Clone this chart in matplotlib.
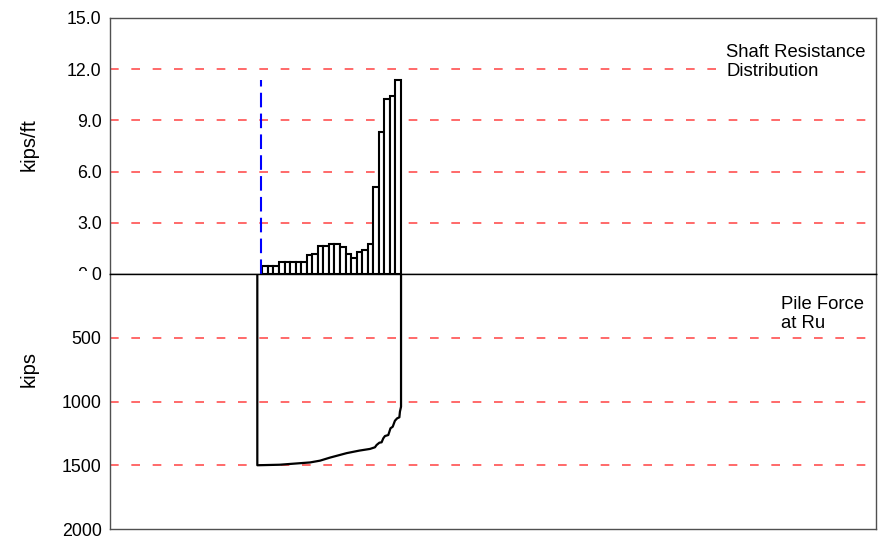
import matplotlib
matplotlib.use("Agg")
import matplotlib.pyplot as plt
from matplotlib.patches import Rectangle

plt.rcParams['font.family'] = ['Liberation Sans', 'DejaVu Sans']

# Shaft resistance per segment (kips/ft), segments 1..25 from pile top to toe
shaft_res = [0.45, 0.45, 0.45, 0.68, 0.68, 0.68, 0.68, 0.68, 1.12, 1.18,
             1.62, 1.65, 1.76, 1.76, 1.60, 1.19, 0.94, 1.29, 1.39, 1.74,
             5.08, 8.34, 10.25, 10.41, 11.37]
seg_start = list(range(len(shaft_res)))

# Pile force at Ru (kips) along the pile (x in segment units)
force_x = [-0.9, -0.9, 3.1, 8.6, 10.4, 12.2, 15.2, 17.5, 19.4, 20.3, 20.6,
           21.1, 21.5, 21.8, 22.1, 22.7, 22.9, 23.1, 23.5, 23.9, 24.3,
           24.7, 24.8, 25.0, 25.0]
force = [0, 1500, 1496, 1478, 1464, 1440, 1405, 1385, 1372, 1359, 1341,
         1323, 1320, 1289, 1271, 1263, 1237, 1210, 1198, 1151, 1132,
         1124, 1080, 1041, 0]

ground_x = -0.29
top_ticks = [0, 3, 6, 9, 12, 15]
top_grid = [3, 6, 9, 12]
bot_ticks = [500, 1000, 1500, 2000]
bot_grid = [500, 1000, 1500]

W, H = 880, 540
fig = plt.figure(figsize=(8.8, 5.4), dpi=100)
ax1 = fig.add_axes([110 / W, 1 - 274 / H, 766 / W, 256 / H])
ax2 = fig.add_axes([110 / W, 1 - 529 / H, 766 / W, 255 / H])

xlim = (-27.45, 110.6)
grid_kw = dict(color='#ff5050', lw=1.2, dashes=(5.2, 7.6), zorder=1)

# top: shaft resistance distribution
for g in top_grid:
    ax1.axhline(g, **grid_kw)
ax1.bar(seg_start, shaft_res, width=1.0, align='edge', color='white',
        edgecolor='black', lw=1.5, zorder=2)
ax1.plot([ground_x, ground_x], [0, max(shaft_res)], color='blue', lw=1.5,
         dashes=(7, 3), zorder=3)
ax1.set_xlim(*xlim)
ax1.set_ylim(0, 15)
ax1.set_yticks(top_ticks)
ax1.set_yticklabels(['%.1f' % t for t in top_ticks])
ax1.set_xticks([])
ax1.text(0.8044, 0.898, 'Shaft Resistance\nDistribution', transform=ax1.transAxes,
         fontsize=13.3, va='top', ha='left', linespacing=1.12,
         bbox=dict(facecolor='white', edgecolor='none', pad=0))

# bottom: pile force at Ru
for g in bot_grid:
    ax2.axhline(g, **grid_kw)
ax2.plot(force_x, force, color='black', lw=1.6, zorder=3)
ax2.set_xlim(*xlim)
ax2.set_ylim(2000, 0)
ax2.set_yticks(bot_ticks)
ax2.set_xticks([])
ax2.text(0.8760, 0.9137, 'Pile Force\nat Ru', transform=ax2.transAxes,
         fontsize=13.3, va='top', ha='left', linespacing=1.12)

for ax in (ax1, ax2):
    ax.tick_params(axis='y', length=0, pad=6, labelsize=12.8)
    for s in ax.spines.values():
        s.set_color('#505050')
        s.set_linewidth(1.0)
ax1.spines['bottom'].set_color('black')
ax2.spines['top'].set_color('black')

fig.text(28.8 / W, 1 - 145 / H, 'kips/ft', rotation=90, fontsize=14.5,
         ha='center', va='center')
fig.text(28.8 / W, 1 - 369 / H, 'kips', rotation=90, fontsize=14.5,
         ha='center', va='center')

# the "0.0" label is partly hidden in the original
fig.patches.append(Rectangle((74 / W, 1 - 283 / H), 17 / W, 12 / H,
                             transform=fig.transFigure, facecolor='white',
                             edgecolor='none', zorder=5))

fig.savefig('out.png', dpi=100)
